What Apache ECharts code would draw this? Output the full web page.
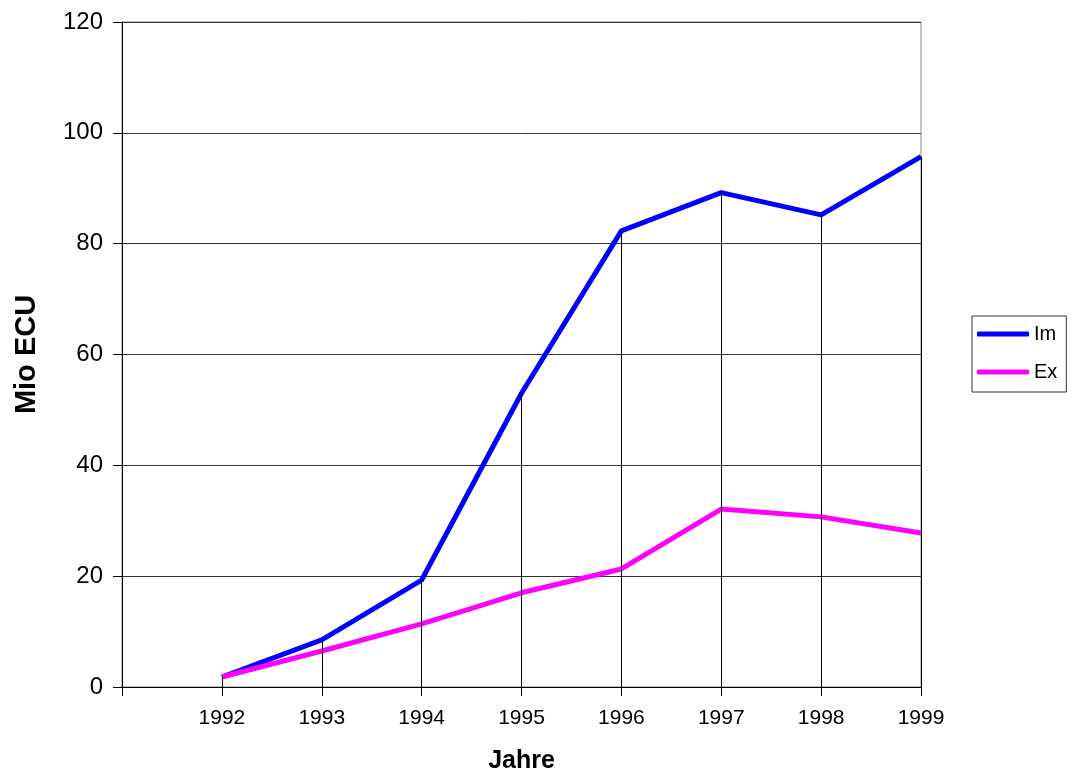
<!DOCTYPE html>
<html>
<head>
<meta charset="utf-8">
<script src="https://cdn.jsdelivr.net/npm/echarts@6/dist/echarts.min.js"></script>
<style>
html,body{margin:0;padding:0;background:#fff;}
#c{width:1075px;height:778px;}
</style>
</head>
<body>
<div id="c"></div>
<script>
var categories = ['', '1992', '1993', '1994', '1995', '1996', '1997', '1998', '1999'];
var imValues = ['-', 1.8, 8.5, 19.3, 53, 82.3, 89.2, 85.2, 95.7];
var exValues = ['-', 1.8, 6.5, 11.4, 17, 21.3, 32.1, 30.7, 27.8];
var yTicks = { min: 0, max: 120, interval: 20 };

(function () {
  var font = "'Liberation Sans', Arial, sans-serif";

  var dropLines = [];
  for (var i = 0; i < categories.length; i++) {
    if (typeof imValues[i] !== 'number') continue;
    var peak = Math.max(imValues[i], exValues[i]);
    dropLines.push([{ coord: [categories[i], 0] }, { coord: [categories[i], peak] }]);
  }

  var chart = echarts.init(document.getElementById('c'));
  chart.setOption({
    animation: false,
    backgroundColor: '#fff',
    textStyle: { fontFamily: font, color: '#000' },
    grid: {
      left: 122, right: 154, top: 22, bottom: 91,
      outerBoundsMode: 'none',
      containLabel: false,
      show: true, borderColor: '#888', borderWidth: 1
    },
    legend: {
      orient: 'vertical',
      left: 972, top: 316,
      padding: [8, 9, 10, 5],
      borderColor: '#333', borderWidth: 1,
      icon: 'roundRect',
      itemWidth: 52, itemHeight: 5, itemGap: 18,
      textStyle: { fontFamily: font, fontSize: 20, color: '#000' },
      data: ['Im', 'Ex']
    },
    xAxis: {
      type: 'category',
      data: categories,
      boundaryGap: false,
      name: 'Jahre',
      nameLocation: 'middle',
      nameGap: 62,
      nameTextStyle: { fontFamily: font, fontSize: 25, fontWeight: 'bold', color: '#000' },
      axisLine: { lineStyle: { color: '#000', width: 1 } },
      axisTick: { show: true, interval: 0, length: 9, lineStyle: { color: '#000' } },
      axisLabel: { interval: 0, margin: 21, fontSize: 21, color: '#000', fontFamily: font },
      splitLine: { show: false }
    },
    yAxis: {
      type: 'value',
      min: yTicks.min, max: yTicks.max, interval: yTicks.interval,
      name: 'Mio ECU',
      nameLocation: 'middle',
      nameGap: 81,
      nameTextStyle: { fontFamily: font, fontSize: 29, fontWeight: 'bold', color: '#000' },
      axisLine: { show: true, lineStyle: { color: '#000', width: 1 } },
      axisTick: { show: true, length: 9, lineStyle: { color: '#000' } },
      axisLabel: { margin: 19, fontSize: 24, color: '#000', fontFamily: font },
      splitLine: { show: true, lineStyle: { color: '#333', width: 1 } }
    },
    series: [
      {
        name: 'Im',
        type: 'line',
        data: imValues,
        symbol: 'none',
        lineStyle: { color: '#0000ff', width: 5 },
        itemStyle: { color: '#0000ff' },
        z: 3,
        markLine: {
          silent: true,
          symbol: ['none', 'none'],
          label: { show: false },
          lineStyle: { color: '#000', width: 1, type: 'solid' },
          data: dropLines
        }
      },
      {
        name: 'Ex',
        type: 'line',
        data: exValues,
        symbol: 'none',
        lineStyle: { color: '#ff00ff', width: 5 },
        itemStyle: { color: '#ff00ff' },
        z: 3
      }
    ]
  });
})();
</script>
</body>
</html>
